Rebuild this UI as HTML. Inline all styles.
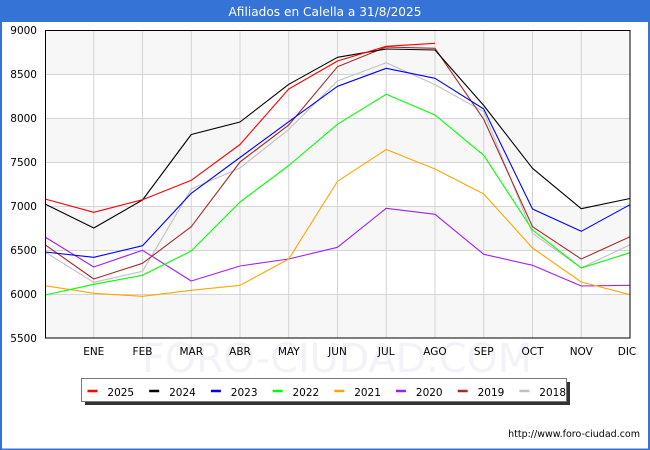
<!DOCTYPE html>
<html><head><meta charset="utf-8"><style>
html,body{margin:0;padding:0;background:#fff;}
svg{display:block;}
text{font-family:"DejaVu Sans","Liberation Sans",sans-serif;}
</style></head><body>
<svg width="650" height="450" viewBox="0 0 650 450" xmlns="http://www.w3.org/2000/svg">
<rect x="0" y="0" width="650" height="450" fill="#fff"/>
<!-- frame -->
<rect x="0" y="0" width="650" height="22" fill="#3574d6"/>
<rect x="0" y="22" width="2" height="428" fill="#3574d6"/>
<rect x="648" y="22" width="2" height="428" fill="#3574d6"/>
<rect x="0" y="448.5" width="650" height="1.5" fill="#3574d6"/>
<text x="325" y="16" fill="#fff" font-size="12.5" text-anchor="middle" textLength="193" lengthAdjust="spacingAndGlyphs">Afiliados en Calella a 31/8/2025</text>

<!-- bands -->
<rect x="45" y="30" width="585" height="44" fill="#f7f7f7"/>
<rect x="45" y="118" width="585" height="44" fill="#f7f7f7"/>
<rect x="45" y="206" width="585" height="44" fill="#f7f7f7"/>
<rect x="45" y="294" width="585" height="44" fill="#f7f7f7"/>

<!-- watermark -->
<text x="337" y="372" fill="#f2f2f8" font-size="40" text-anchor="middle" textLength="390" lengthAdjust="spacingAndGlyphs">FORO-CIUDAD.COM</text>

<!-- grid -->
<g stroke="#d4d4d4" stroke-width="1">
<line x1="45" y1="74.5" x2="630" y2="74.5"/>
<line x1="45" y1="118.5" x2="630" y2="118.5"/>
<line x1="45" y1="162.5" x2="630" y2="162.5"/>
<line x1="45" y1="206.5" x2="630" y2="206.5"/>
<line x1="45" y1="250.5" x2="630" y2="250.5"/>
<line x1="45" y1="294.5" x2="630" y2="294.5"/>
<line x1="93.75" y1="30" x2="93.75" y2="338"/>
<line x1="142.5" y1="30" x2="142.5" y2="338"/>
<line x1="191.25" y1="30" x2="191.25" y2="338"/>
<line x1="240" y1="30" x2="240" y2="338"/>
<line x1="288.75" y1="30" x2="288.75" y2="338"/>
<line x1="337.5" y1="30" x2="337.5" y2="338"/>
<line x1="386.25" y1="30" x2="386.25" y2="338"/>
<line x1="435" y1="30" x2="435" y2="338"/>
<line x1="483.75" y1="30" x2="483.75" y2="338"/>
<line x1="532.5" y1="30" x2="532.5" y2="338"/>
<line x1="581.25" y1="30" x2="581.25" y2="338"/>
</g>

<!-- series -->
<g fill="none" stroke-width="1.1" stroke-linejoin="round">
<polyline stroke="#c0c0c0" points="45,252 93.75,282.3 142.5,271.3 191.25,189 240,168 288.75,129.3 337.5,81 386.25,62.7 435,84.6 483.75,111.7 532.5,233.3 581.25,268 630,244.7"/>
<polyline stroke="#a52a2a" points="45,244.7 93.75,279 142.5,263.3 191.25,226.7 240,162 288.75,125 337.5,66.7 386.25,47 435,48.3 483.75,119.3 532.5,226.7 581.25,259 630,236.8"/>
<polyline stroke="#a020f0" points="45,237 93.75,267 142.5,250.3 191.25,281 240,266 288.75,259 337.5,247.3 386.25,208.3 435,214.3 483.75,254.3 532.5,265.3 581.25,286 630,285.3"/>
<polyline stroke="#ffa500" points="45,285.7 93.75,293.3 142.5,296.3 191.25,290.3 240,285.3 288.75,259 337.5,181.3 386.25,149.5 435,169 483.75,194 532.5,248 581.25,282 630,294.7"/>
<polyline stroke="#00ff00" points="45,295 93.75,284.3 142.5,275.3 191.25,251 240,202 288.75,165.5 337.5,124.3 386.25,94.3 435,115 483.75,155.3 532.5,230 581.25,268 630,252.7"/>
<polyline stroke="#0000ff" points="45,252 93.75,257.3 142.5,245.7 191.25,193.3 240,157.5 288.75,121.7 337.5,86.3 386.25,68.3 435,78.3 483.75,109 532.5,209 581.25,231.3 630,204.7"/>
<polyline stroke="#000000" points="45,204 93.75,228 142.5,200 191.25,134.5 240,122 288.75,84.3 337.5,57.3 386.25,49 435,50 483.75,105.5 532.5,168.3 581.25,208.7 630,198.5"/>
<polyline stroke="#ff0000" points="45,199 93.75,212.3 142.5,199.7 191.25,180.3 240,144.5 288.75,89 337.5,61 386.25,46.3 435,43.3"/>
</g>

<!-- plot border -->
<rect x="45.5" y="30.5" width="584.5" height="307.5" fill="none" stroke="#000" stroke-width="1"/>

<!-- y labels -->
<g font-size="10.5" fill="#000" text-anchor="end">
<text x="37" y="34">9000</text>
<text x="37" y="78">8500</text>
<text x="37" y="122">8000</text>
<text x="37" y="166">7500</text>
<text x="37" y="210">7000</text>
<text x="37" y="254">6500</text>
<text x="37" y="298">6000</text>
<text x="37" y="342">5500</text>
</g>
<!-- x labels -->
<g font-size="10.5" fill="#000" text-anchor="middle">
<text x="93.75" y="355">ENE</text>
<text x="142.5" y="355">FEB</text>
<text x="191.25" y="355">MAR</text>
<text x="240" y="355">ABR</text>
<text x="288.75" y="355">MAY</text>
<text x="337.5" y="355">JUN</text>
<text x="386.25" y="355">JUL</text>
<text x="435" y="355">AGO</text>
<text x="483.75" y="355">SEP</text>
<text x="532.5" y="355">OCT</text>
<text x="581.25" y="355">NOV</text>
<text x="627" y="355">DIC</text>
</g>

<!-- legend -->
<rect x="85" y="382" width="485" height="23" fill="#333"/>
<rect x="81.5" y="378.5" width="485" height="23" fill="#fff" stroke="#777" stroke-width="1"/>
<g stroke-width="2.5">
<line x1="87.5" y1="391" x2="97.5" y2="391" stroke="#ff0000"/>
<line x1="149.2" y1="391" x2="159.2" y2="391" stroke="#000000"/>
<line x1="210.9" y1="391" x2="220.9" y2="391" stroke="#0000ff"/>
<line x1="272.6" y1="391" x2="282.6" y2="391" stroke="#00ff00"/>
<line x1="334.3" y1="391" x2="344.3" y2="391" stroke="#ffa500"/>
<line x1="396" y1="391" x2="406" y2="391" stroke="#a020f0"/>
<line x1="457.7" y1="391" x2="467.7" y2="391" stroke="#a52a2a"/>
<line x1="519.4" y1="391" x2="529.4" y2="391" stroke="#c0c0c0"/>
</g>
<g font-size="10.5" fill="#000">
<text x="107.4" y="396">2025</text>
<text x="169.1" y="396">2024</text>
<text x="230.8" y="396">2023</text>
<text x="292.5" y="396">2022</text>
<text x="354.2" y="396">2021</text>
<text x="415.9" y="396">2020</text>
<text x="477.6" y="396">2019</text>
<text x="539.3" y="396">2018</text>
</g>

<text x="640" y="437" font-size="9.5" fill="#000" text-anchor="end">http://www.foro-ciudad.com</text>
</svg>
</body></html>
